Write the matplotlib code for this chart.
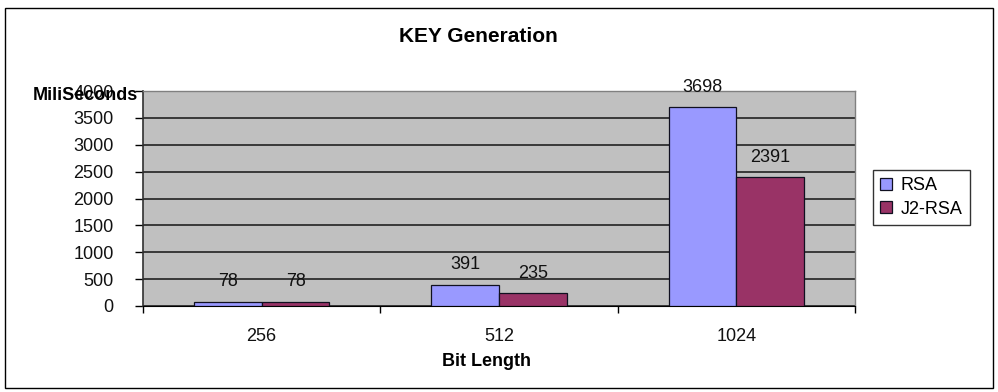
import matplotlib
matplotlib.use("Agg")
import matplotlib.pyplot as plt
from matplotlib.patches import Rectangle
import numpy as np

categories = ["256", "512", "1024"]
rsa = [78, 391, 3698]
j2rsa = [78, 235, 2391]
series_names = ["RSA", "J2-RSA"]
yticks = [0, 500, 1000, 1500, 2000, 2500, 3000, 3500, 4000]

plt.rcParams['font.family'] = ['Liberation Sans', 'DejaVu Sans']

W, H = 998, 392
fig = plt.figure(figsize=(W/100, H/100), dpi=100)
fig.patch.set_facecolor('white')

# outer chart border
fig.patches.append(Rectangle((5/W, 4/H), 988/W, 380/H, transform=fig.transFigure,
                             fill=False, edgecolor='black', linewidth=1.0))

L, R, T, B = 143, 855, 91, 306
ax = fig.add_axes([L/W, 1-B/H, (R-L)/W, (B-T)/H])
ax.set_facecolor('#C0C0C0')

FS = 13
x = np.arange(len(categories))
bw = 1/3.5
b1 = ax.bar(x - bw/2, rsa, bw, color='#9999FF', edgecolor='#101020', linewidth=0.9, label=series_names[0], zorder=3)
b2 = ax.bar(x + bw/2, j2rsa, bw, color='#993366', edgecolor='#101020', linewidth=0.9, label=series_names[1], zorder=3)

for bars, vals in ((b1, rsa), (b2, j2rsa)):
    for bar, v in zip(bars, vals):
        ax.annotate(str(v), (bar.get_x() + bar.get_width()/2, v), xytext=(0, 14.5),
                    textcoords='offset points', ha='center', va='center', fontsize=FS,
                    color='#111111')

ax.set_xlim(-0.5, len(categories) - 0.5)
ax.set_ylim(0, 4000)
ax.set_yticks(yticks)
ax.set_yticklabels([str(t) for t in yticks], fontsize=FS, color='#111111')
ax.yaxis.grid(True, color='#151515', linewidth=1.1, zorder=1)
ax.set_axisbelow(True)
ax.tick_params(axis='y', direction='out', length=6, width=1, color='black', pad=15)

ax.set_xticks(np.arange(len(categories) + 1) - 0.5)
ax.set_xticklabels([])
ax.set_xticks(x, minor=True)
ax.set_xticklabels(categories, minor=True, fontsize=FS, color='#111111')
ax.tick_params(axis='x', which='major', direction='out', length=5, width=1, color='black')
ax.tick_params(axis='x', which='minor', length=0, pad=16)

for s in ['top', 'right']:
    ax.spines[s].set_color('#808080')
    ax.spines[s].set_linewidth(1.0)
ax.spines['left'].set_color('#303030')
ax.spines['left'].set_linewidth(1.2)
ax.spines['bottom'].set_color('black')

ax.set_xlabel("Bit Length", fontsize=FS, fontweight='bold')
ax.xaxis.set_label_coords((486 - L)/(R - L), -(362 - B)/(B - T))
ax.xaxis.label.set_va('center')

fig.text(478/W, 1-36/H, "KEY Generation", ha='center', va='center', fontsize=15, fontweight='bold')
fig.text(33/W, 1-95/H, "MiliSeconds", ha='left', va='center', fontsize=FS, fontweight='bold')

leg = fig.legend(handles=[b1, b2], labels=series_names, loc='upper left',
                 bbox_to_anchor=(873/W, 1-170/H), bbox_transform=fig.transFigure,
                 frameon=True, fancybox=False, edgecolor='black', fontsize=FS,
                 handlelength=0.65, handleheight=0.65, borderpad=0.4, labelspacing=0.35,
                 handletextpad=0.5, borderaxespad=0)
leg.get_frame().set_linewidth(1.0)

fig.savefig("out.png", dpi=100)
